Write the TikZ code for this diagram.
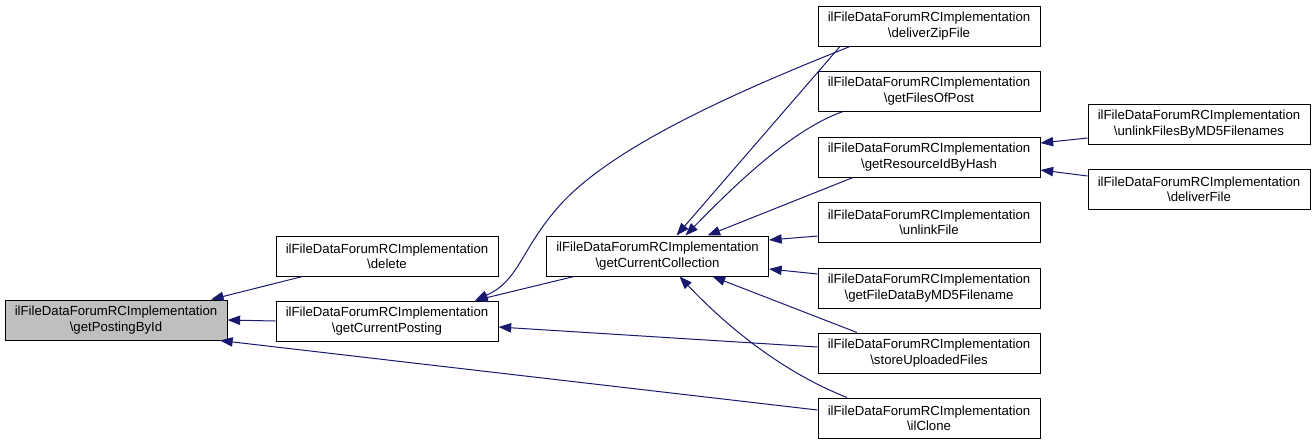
\documentclass[tikz,border=0pt]{standalone}
\usepackage{fontspec}
\setmainfont{Liberation Sans}
\usetikzlibrary{arrows.meta,calc}
\definecolor{edgeblue}{RGB}{25,25,112}
\definecolor{hilite}{RGB}{191,191,191}
\begin{document}
\begin{tikzpicture}[x=0.75pt,y=-0.75pt,
  fn/.style={draw=black,line width=0.75pt,fill=white,minimum width=166.5pt,minimum height=30pt,inner sep=0pt,align=center,font=\fontsize{9.9}{11.4}\selectfont},
  cur/.style={fn,fill=hilite},
  edge/.style={draw=edgeblue,line width=0.75pt,{Triangle[length=9.5pt,width=7pt]}-}]
\useasboundingbox (0,0) rectangle (1316,444);
\fill[white] (0,0) rectangle (1316,444);
% nodes
\node[cur] (gp)  at (116,320) {ilFileDataForumRCImplementation\\\textbackslash getPostingById};
\node[fn]  (del) at (387,256) {ilFileDataForumRCImplementation\\\textbackslash delete};
\node[fn]  (gcp) at (387,321) {ilFileDataForumRCImplementation\\\textbackslash getCurrentPosting};
\node[fn]  (gcc) at (657.5,256) {ilFileDataForumRCImplementation\\\textbackslash getCurrentCollection};
\node[fn]  (dzf) at (929,26)  {ilFileDataForumRCImplementation\\\textbackslash deliverZipFile};
\node[fn]  (gfp) at (929,91)  {ilFileDataForumRCImplementation\\\textbackslash getFilesOfPost};
\node[fn]  (grh) at (929,157) {ilFileDataForumRCImplementation\\\textbackslash getResourceIdByHash};
\node[fn]  (ulf) at (929,222) {ilFileDataForumRCImplementation\\\textbackslash unlinkFile};
\node[fn]  (gfd) at (929,288) {ilFileDataForumRCImplementation\\\textbackslash getFileDataByMD5Filename};
\node[fn]  (suf) at (929,353) {ilFileDataForumRCImplementation\\\textbackslash storeUploadedFiles};
\node[fn]  (ilc) at (929,418) {ilFileDataForumRCImplementation\\\textbackslash ilClone};
\node[fn]  (ufm) at (1199,124) {ilFileDataForumRCImplementation\\\textbackslash unlinkFilesByMD5Filenames};
\node[fn]  (df)  at (1199,189) {ilFileDataForumRCImplementation\\\textbackslash deliverFile};
% edges (arrow at callee)
\draw[edge] ($(gp.north)+(95,0)$) -- ($(del.south west)+(27,0)$);
\draw[edge] (gp.east) -- (gcp.west);
\draw[edge] ($(gp.south)+(104,0)$) -- ($(ilc.west)+(0,-8)$);
\draw[edge] ($(gcp.north)+(88,0)$) -- ($(gcc.south west)+(28,0)$);
\draw[edge] ($(gcp.north)+(88,0)$) .. controls (520,280) and (520,250) .. (560,205)
            .. controls (610,150) and (720,98) .. ($(dzf.south)+(-79,0)$);
\draw[edge] ($(gcp.east)+(0,6)$) -- ($(suf.west)+(0,-6)$);
\draw[edge] ($(gcc.north)+(19,0)$) -- ($(dzf.south)+(-89,0)$);
\draw[edge] ($(gcc.north)+(28,0)$) .. controls (730,190) and (790,130) .. ($(gfp.south)+(-86,0)$);
\draw[edge] ($(gcc.north)+(50,0)$) -- ($(grh.south)+(-76,0)$);
\draw[edge] ($(gcc.east)+(0,-16)$) -- ($(ulf.west)+(0,14)$);
\draw[edge] ($(gcc.east)+(0,13)$) -- ($(gfd.west)+(0,-14)$);
\draw[edge] ($(gcc.south)+(55,0)$) -- ($(suf.north)+(-72,0)$);
\draw[edge] ($(gcc.south)+(22,0)$) .. controls (735,335) and (790,375) .. ($(ilc.north)+(-82,0)$);
\draw[edge] ($(grh.east)+(0,-14)$) -- ($(ufm.west)+(0,14)$);
\draw[edge] ($(grh.east)+(0,13)$) -- ($(df.west)+(0,-13)$);
\end{tikzpicture}
\end{document}
